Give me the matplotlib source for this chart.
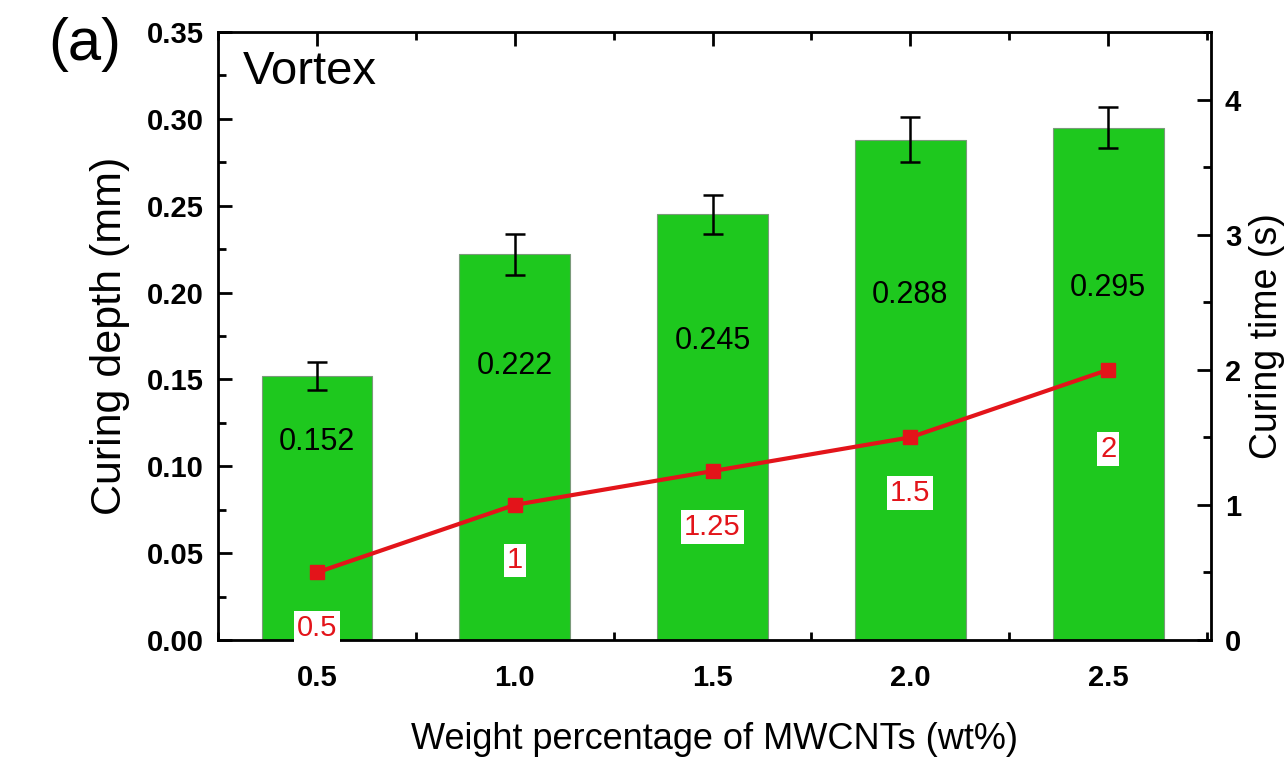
import matplotlib
matplotlib.use("Agg")
import matplotlib.pyplot as plt
from matplotlib.ticker import MultipleLocator

plt.rcParams['font.family'] = ['Liberation Sans', 'DejaVu Sans']

# data
wt = [0.5, 1.0, 1.5, 2.0, 2.5]
depth = [0.152, 0.222, 0.245, 0.288, 0.295]
depth_err = [0.008, 0.012, 0.011, 0.013, 0.012]
cure_time = [0.5, 1, 1.25, 1.5, 2]
time_labels = ["0.5", "1", "1.25", "1.5", "2"]
depth_labels = ["0.152", "0.222", "0.245", "0.288", "0.295"]

GREEN = "#1ec81e"
RED = "#e3141a"

fig = plt.figure(figsize=(12.84, 7.7), dpi=100)
ax = fig.add_axes([218/1284, 1 - 640/770, (1211-218)/1284, (640-32)/770])

ax.bar(wt, depth, width=0.28, color=GREEN, edgecolor="#7a9a7a", linewidth=0.8, zorder=2)
ax.errorbar(wt, depth, yerr=depth_err, fmt="none", ecolor="black",
            elinewidth=1.8, capsize=7, capthick=1.8, zorder=3)
for x, v, s in zip(wt, depth, depth_labels):
    ax.text(x, 0.62 * v + 0.02, s, ha="center", va="center", fontsize=22, zorder=4)

ax.set_xlim(0.25, 2.76)
ax.set_ylim(0, 0.35)
ax.xaxis.set_minor_locator(MultipleLocator(0.25))
ax.yaxis.set_major_locator(MultipleLocator(0.05))
ax.yaxis.set_minor_locator(MultipleLocator(0.025))
ax.set_xticks(wt)
ax.set_xticklabels(["%.1f" % w for w in wt])
ax.yaxis.set_major_formatter(matplotlib.ticker.FormatStrFormatter("%.2f"))
ax.tick_params(which="both", direction="in", top=True, right=False, width=2)
ax.tick_params(which="major", length=10, labelsize=21, pad=10)
ax.tick_params(axis="x", which="major", pad=17)
ax.tick_params(which="minor", length=6)
for lab in ax.get_xticklabels() + ax.get_yticklabels():
    lab.set_fontweight("bold")
for sp in ax.spines.values():
    sp.set_linewidth(2)

ax.set_xlabel("Weight percentage of MWCNTs (wt%)", fontsize=26, labelpad=22)
ax.set_ylabel("Curing depth (mm)", fontsize=31, labelpad=12)
ax.text(0.025, 0.935, "Vortex", transform=ax.transAxes, fontsize=34, va="center")
fig.text(48/1284, 1 - 45/770, "(a)", fontsize=43, va="center")

ax2 = ax.twinx()
ax2.plot(wt, cure_time, "-s", color=RED, lw=3, ms=10, zorder=5)
ax2.set_ylim(0, 4.5)
ax2.yaxis.set_major_locator(MultipleLocator(1))
ax2.yaxis.set_minor_locator(MultipleLocator(0.5))
ax2.tick_params(which="both", direction="in", width=2)
ax2.tick_params(which="major", length=10, labelsize=21, pad=10)
ax2.tick_params(which="minor", length=6)
for lab in ax2.get_yticklabels():
    lab.set_fontweight("bold")
ax2.set_ylabel("Curing time (s)", fontsize=27, labelpad=6)
for i, (x, t, s) in enumerate(zip(wt, cure_time, time_labels)):
    off = -57 if i == len(wt) - 1 else -40
    ax2.annotate(s, (x, t), xytext=(0, off), textcoords="offset points",
                 ha="center", va="center", fontsize=21, color=RED,
                 bbox=dict(boxstyle="square,pad=0.1", fc="white", ec="none"), zorder=6)

fig.savefig("out.png", dpi=100)
